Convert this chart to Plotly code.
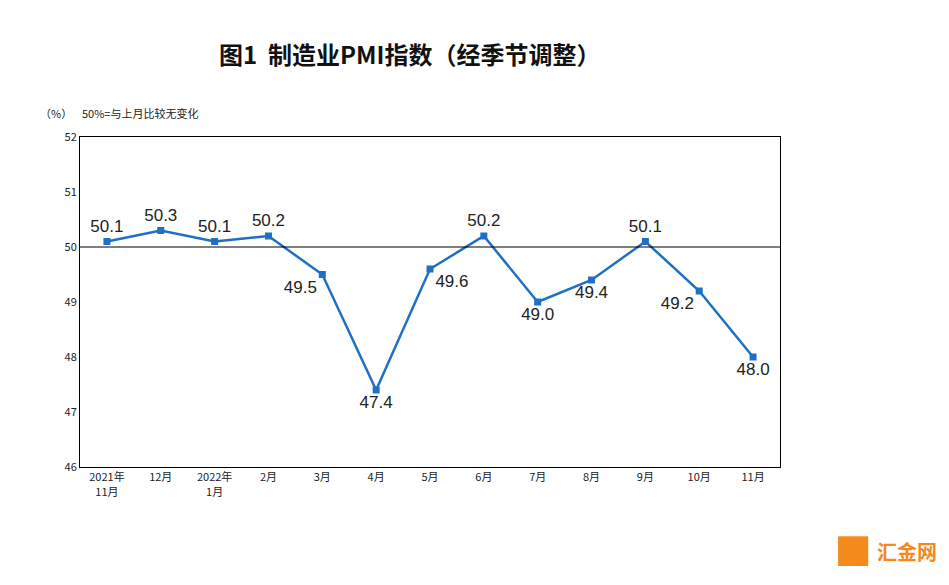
import plotly.graph_objects as go

months = ["2021年<br>11月","12月","2022年<br>1月","2月","3月","4月","5月","6月","7月","8月","9月","10月","11月"]
pmi = [50.1,50.3,50.1,50.2,49.5,47.4,49.6,50.2,49.0,49.4,50.1,49.2,48.0]
label_pos = ["top center","top center","top center","top center","bottom left","bottom center",
             "bottom right","top center","bottom center","bottom center","top center","bottom left","bottom center"]
texts = [f"{v:.1f}" for v in pmi]

fig = go.Figure()
fig.add_trace(go.Scatter(x=list(range(len(months))), y=pmi, mode="lines+markers+text",
    line=dict(color="#1f6fc5", width=2.5), marker=dict(symbol="square", size=7, color="#1f6fc5"),
    text=texts, textposition=label_pos, textfont=dict(size=17, color="#222", family="Liberation Sans")))
fig.add_shape(type="line", xref="paper", x0=0, x1=1, y0=50, y1=50, line=dict(color="black", width=1.2))

fig.update_layout(
    width=949, height=585, plot_bgcolor="white", paper_bgcolor="white", showlegend=False,
    margin=dict(l=72, r=177, t=129, b=126),
    font=dict(family="Noto Sans CJK SC", color="#222"),
    xaxis=dict(range=[-0.5,12.5], tickmode="array", tickvals=list(range(len(months))), ticktext=months,
               showgrid=False, showline=True, linecolor="black", mirror=True, ticks="", tickfont=dict(size=11)),
    yaxis=dict(range=[46,52], dtick=1, showgrid=False, showline=True, linecolor="black", mirror=True,
               ticks="", tickfont=dict(size=11), zeroline=False),
    annotations=[
        dict(text="<b>图1  制造业PMI指数（经季节调整）</b>", xref="paper", yref="paper", x=0.47, y=1.0, yshift=84,
             yanchor="middle", showarrow=False, font=dict(size=24, color="#111")),
        dict(text="（%）    50%=与上月比较无变化", xref="paper", yref="paper", x=-0.06, y=1.0, yshift=34,
             xanchor="left", showarrow=False, font=dict(size=11)),
        dict(text="<b>汇金网</b>", xref="paper", yref="paper", x=1.135, xanchor="left", y=-0.255, yanchor="middle",
             showarrow=False, font=dict(size=20, color="#f28a1c")),
    ],
)
fig.add_shape(type="rect", xref="paper", yref="paper", x0=1.083, x1=1.126, y0=-0.30, y1=-0.21,
              fillcolor="#f28a1c", line=dict(width=0))
fig.write_html("out.html")
